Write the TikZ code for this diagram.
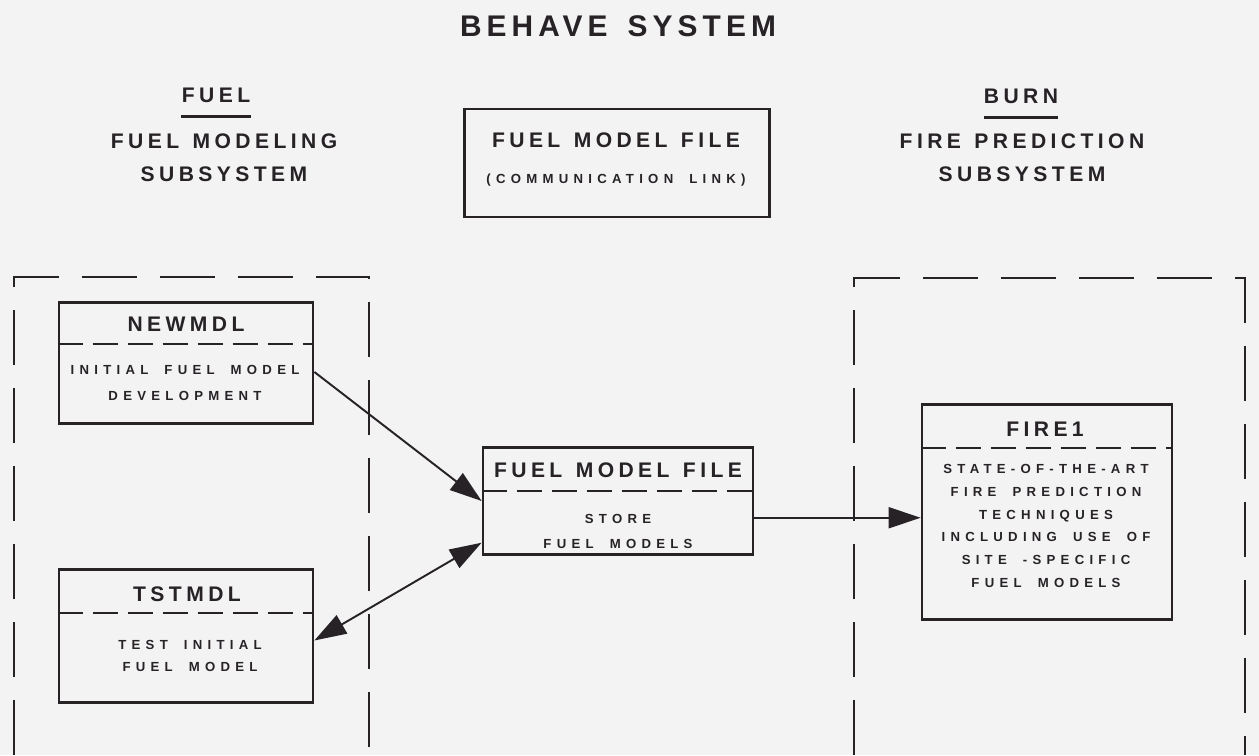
\documentclass[tikz,border=0pt]{standalone}
\usepackage{fontspec}
\setmainfont{Liberation Sans}
\newfontfamily\titlefont[LetterSpace=17, WordSpace=1.5]{Liberation Sans}
\newfontfamily\headfont[LetterSpace=21, WordSpace=1.3]{Liberation Sans}
\newfontfamily\bodyfont[LetterSpace=40, WordSpace=1.8]{Liberation Sans}
\usetikzlibrary{arrows.meta}
\definecolor{paper}{RGB}{243,243,244}
\definecolor{ink}{RGB}{38,34,37}
\tikzset{
  modbox/.style={draw, line width=1.6pt, inner sep=0pt},
  divider/.style={line width=1.3pt, dash pattern=on 0.5cm off 0.2cm},
  region/.style={line width=1.1pt, dash pattern=on 1.1cm off 0.46cm},
  bigtitle/.style={font=\titlefont\bfseries\fontsize{17}{20}\selectfont, inner sep=0pt},
  heading/.style={font=\headfont\bfseries\fontsize{12}{18.8}\selectfont, align=center, inner sep=0pt},
  boxtitle/.style={font=\headfont\bfseries\fontsize{12}{14}\selectfont, inner sep=0pt},
  bodytext/.style={font=\bodyfont\bfseries\fontsize{7.5}{13}\selectfont, align=center, inner sep=0pt},
  flow/.style={line width=1.1pt, -{Triangle[length=0.64cm, width=0.42cm]}},
  dflow/.style={line width=1.1pt, {Triangle[length=0.64cm, width=0.42cm]}-{Triangle[length=0.64cm, width=0.42cm]}}
}
\begin{document}
\begin{tikzpicture}[x=0.02cm, y=-0.02cm, color=ink]
  \fill[paper] (0,0) rectangle (1259,755);
  \useasboundingbox (0,0) rectangle (1259,755);

  \node[bigtitle] (title) at (618,26) {BEHAVE SYSTEM};

  \node[boxtitle] (fuel) at (216,95) {FUEL};
  \draw[line width=1.5pt] ([yshift=-0.28cm]fuel.south west) -- ([yshift=-0.28cm]fuel.south east);
  \node[heading] (fuelsub) at (224,158) {FUEL MODELING\\SUBSYSTEM};
  \node[boxtitle] (burn) at (1021,96) {BURN};
  \draw[line width=1.5pt] ([yshift=-0.28cm]burn.south west) -- ([yshift=-0.28cm]burn.south east);
  \node[heading] (burnsub) at (1022,158) {FIRE PREDICTION\\SUBSYSTEM};

  \node[modbox, minimum width=6.1cm, minimum height=2.16cm] (link) at (617,163) {};
  \node[boxtitle] (linktitle) at (616,140) {FUEL MODEL FILE};
  \node[bodytext] (linknote) at (616,180) {(COMMUNICATION LINK)};

  \draw[region] (14,755) |- (369,277) -- (369,755);
  \draw[region] (854,755) |- (1245,278) -- (1245,755);

  \node[modbox, minimum width=5.08cm, minimum height=2.42cm] (newmdl) at (186,363) {};
  \draw[divider] ([yshift=-0.86cm]newmdl.north west) -- ([yshift=-0.86cm]newmdl.north east);
  \node[boxtitle] (newmdlt) at (186,324) {NEWMDL};
  \node[bodytext] (newmdlb) at (185,383) {INITIAL FUEL MODEL\\[1.7pt]DEVELOPMENT};

  \node[modbox, minimum width=5.08cm, minimum height=2.66cm] (tstmdl) at (186,636) {};
  \draw[divider] ([yshift=-0.9cm]tstmdl.north west) -- ([yshift=-0.9cm]tstmdl.north east);
  \node[boxtitle] (tstmdlt) at (187,594) {TSTMDL};
  \node[bodytext] (tstmdlb) at (190,656) {TEST INITIAL\\FUEL MODEL};

  \node[modbox, minimum width=5.4cm, minimum height=2.14cm] (fmf) at (618,501) {};
  \draw[divider] ([yshift=-0.9cm]fmf.north west) -- ([yshift=-0.9cm]fmf.north east);
  \node[boxtitle] (fmft) at (618,470) {FUEL MODEL FILE};
  \node[bodytext] (fmfb) at (618,531) {STORE\\[1.2pt]FUEL MODELS};

  \node[modbox, minimum width=5cm, minimum height=4.3cm] (fire1) at (1047,512) {};
  \draw[divider] ([yshift=-0.9cm]fire1.north west) -- ([yshift=-0.9cm]fire1.north east);
  \node[boxtitle] (fire1t) at (1045,429) {FIRE1};
  \node[bodytext] (fire1b) at (1046,526) {STATE-OF-THE-ART\\FIRE PREDICTION\\TECHNIQUES\\INCLUDING USE OF\\SITE -SPECIFIC\\FUEL MODELS};

  \draw[flow] (newmdl.-4) -- (fmf.west);
  \draw[dflow] (fmf.197) -- (tstmdl.-2);
  \draw[flow] (fmf.-7) -- (fmf.-7 -| fire1.west);
\end{tikzpicture}
\end{document}
